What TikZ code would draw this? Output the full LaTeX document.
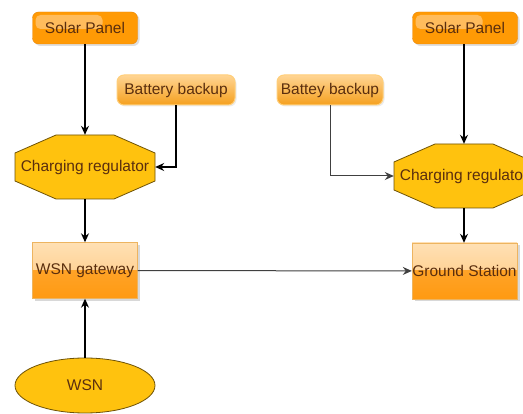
\documentclass[tikz,border=0pt]{standalone}
\usepackage{fontspec}
\setmainfont{Liberation Sans}
\usetikzlibrary{arrows.meta,shadows,calc,shapes.geometric,backgrounds}
\definecolor{txt}{HTML}{5A2E0E}
\definecolor{spfill}{HTML}{FF9A05}
\definecolor{splight}{HTML}{FFBC5C}
\definecolor{spborder}{HTML}{E88A10}
\definecolor{bbtop}{HTML}{FFD594}
\definecolor{bbbot}{HTML}{F5A01E}
\definecolor{bbborder}{HTML}{FFCF7A}
\definecolor{gwtop}{HTML}{FFE0B4}
\definecolor{gwmid}{HTML}{FFC67A}
\definecolor{gwbot}{HTML}{FF9A12}
\definecolor{gwborder}{HTML}{EDB460}
\definecolor{gold}{HTML}{FFC20E}
\definecolor{goldborder}{HTML}{6E5206}
\begin{document}
\begin{tikzpicture}[x=1pt,y=-1pt,
  font=\fontsize{15.5}{18}\selectfont,
  every node/.style={text=txt, inner sep=0pt},
  solar/.style={rounded corners=6pt, minimum width=105pt, minimum height=32pt,
    draw=spborder, fill=spfill,
    drop shadow={opacity=0.25, shadow xshift=2pt, shadow yshift=-2pt},
    path picture={\fill[splight, rounded corners=5pt]
      ([xshift=3pt,yshift=-3pt]path picture bounding box.north west) rectangle
      ([xshift=-35pt,yshift=-1pt]path picture bounding box.east);}},
  battery/.style={rounded corners=7pt, minimum height=30pt,
    draw=bbborder, line width=1pt, top color=bbtop, bottom color=bbbot,
    drop shadow={opacity=0.15, shadow xshift=1.5pt, shadow yshift=-1.5pt}},
  gatebox/.style={minimum width=105pt, minimum height=56pt,
    draw=gwborder, fill=gwtop,
    drop shadow={opacity=0.3, shadow xshift=2.5pt, shadow yshift=-2.5pt},
    path picture={
      \shade[top color=gwtop, bottom color=gwmid]
        (path picture bounding box.north west) rectangle (path picture bounding box.east);
      \shade[top color=gwbot!80!gwmid, bottom color=gwbot]
        (path picture bounding box.west) rectangle (path picture bounding box.south east);}},
  octo/.style={draw=goldborder, fill=gold, line width=0.8pt},
  octolabel/.style={minimum width=140pt, minimum height=64pt},
  wsnshape/.style={ellipse, draw=goldborder, fill=gold, line width=0.8pt,
    minimum width=140pt, minimum height=55pt},
  arr/.style={-{Stealth[length=9pt,width=8pt,inset=3pt]}, line width=1.1pt, black},
  thinarr/.style={-{Stealth[length=9pt,width=8pt,inset=3pt]}, line width=1pt, black!75}
]
\useasboundingbox (0,0) rectangle (523,414);
\begin{scope}[on background layer]
  \fill[white] (0,0) rectangle (523,414);
\end{scope}

% octagon outlines
\coordinate (c1) at (85,167);
\coordinate (c2) at (464,176);
\foreach \c in {c1,c2}{
  \draw[octo] ($(\c)+(-29,-32)$) -- ($(\c)+(29,-32)$) -- ($(\c)+(70,-14)$) -- ($(\c)+(70,14)$)
    -- ($(\c)+(29,32)$) -- ($(\c)+(-29,32)$) -- ($(\c)+(-70,14)$) -- ($(\c)+(-70,-14)$) -- cycle;
}

% nodes
\node[solar] (sp1) at (85,28) {Solar Panel};
\node[solar] (sp2) at (465,28) {Solar Panel};
\node[battery, minimum width=118pt] (bb1) at (176,90) {Battery backup};
\node[battery, minimum width=106pt] (bb2) at (330,90) {Battey backup};
\node[octolabel] (cr1) at (c1) {Charging regulator};
\node[octolabel] (cr2) at (c2) {Charging regulator};
\node[gatebox] (gw) at (85,270.5) {WSN gateway};
\node[gatebox] (gs) at (464.5,271) {Ground Station};
\node[wsnshape] (wsn) at (85,385.5) {WSN};

% connectors
\draw[arr] (sp1) -- (cr1);
\draw[arr] (bb1.south) |- (cr1.east);
\draw[arr] (cr1) -- (gw);
\draw[arr] (wsn) -- (gw);
\draw[thinarr] (gw) -- (gs);
\draw[arr] (sp2.south -| cr2.north) -- (cr2.north);
\draw[thinarr] (bb2.south) |- (cr2.west);
\draw[arr] (cr2.south) -- (cr2.south |- gs.north);
\end{tikzpicture}
\end{document}
